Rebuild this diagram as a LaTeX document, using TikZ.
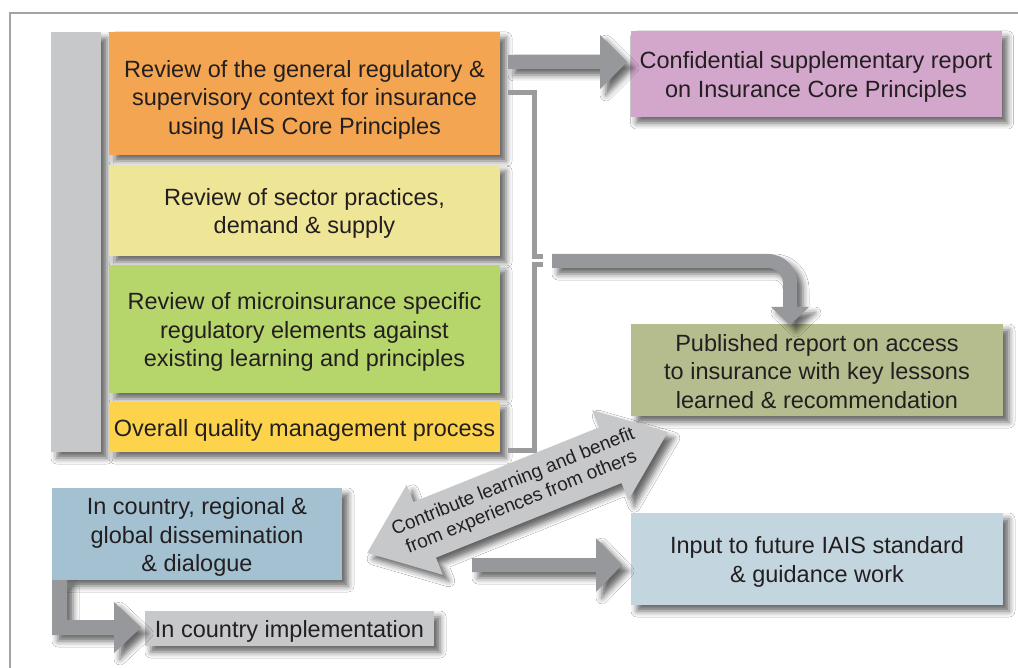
\documentclass[tikz,border=0pt]{standalone}
\usepackage{fontspec}
\setmainfont{Liberation Sans}
\usetikzlibrary{shadows.blur,calc}
\definecolor{corange}{HTML}{F3A551}
\definecolor{cpale}{HTML}{EFE597}
\definecolor{cgreen}{HTML}{B6D56B}
\definecolor{cyellow}{HTML}{FDD34C}
\definecolor{cpurple}{HTML}{D3A6CC}
\definecolor{colive}{HTML}{B5BD8E}
\definecolor{clblue}{HTML}{C3D6E0}
\definecolor{cblue}{HTML}{A3C1D1}
\definecolor{cgray}{HTML}{C7C8CA}
\definecolor{carrow}{HTML}{97989B}
\definecolor{cframe}{HTML}{A3A3A3}
\definecolor{ctext}{HTML}{231F20}
\tikzset{
  shad/.style={blur shadow={shadow xshift=6pt, shadow yshift=-6pt, shadow blur radius=6pt, shadow opacity=60}},
  box/.style={shad, inner sep=0pt, outer sep=0pt},
  txt/.style={inner sep=0pt, align=center, text=ctext, yshift=-3pt,
    font=\fontsize{23.5}{28.5}\selectfont},
  blockarrow/.style={shad, fill=carrow},
  bracketline/.style={draw=cframe!95!black, line width=5pt},
}
\begin{document}
\begin{tikzpicture}[x=1pt,y=-1pt]
\clip (0,0) rectangle (1018,668);
\fill[white] (0,0) rectangle (1018,668);
\draw[cframe, line width=2pt] (10,13) rectangle (1060,720);

% left stack
\node[box, fill=cgray, minimum width=50pt, minimum height=420pt] (bar) at (76,242) {};
\node[box, fill=corange, minimum width=391pt, minimum height=123pt,
  label={[txt, yshift=-3pt]center:{Review of the general regulatory \&\\ supervisory context for insurance\\ using IAIS Core Principles}}] (ctx) at (304.5,93.5) {};
\node[box, fill=cpale, minimum width=391pt, minimum height=91pt,
  label={[txt]center:{Review of sector practices,\\ demand \& supply}}] (sector) at (304.5,210.5) {};
\node[box, fill=cgreen, minimum width=391pt, minimum height=128pt,
  label={[txt]center:{Review of microinsurance specific\\ regulatory elements against\\ existing learning and principles}}] (micro) at (304.5,329) {};
\node[box, fill=cyellow, minimum width=391pt, minimum height=50pt,
  label={[txt]center:{Overall quality management process}}] (quality) at (304.5,427) {};

% right column
\node[box, fill=cpurple, minimum width=371pt, minimum height=86pt,
  label={[txt]center:{Confidential supplementary report\\ on Insurance Core Principles}}] (conf) at (816,74) {};
\node[box, fill=colive, minimum width=372pt, minimum height=92pt,
  label={[txt, yshift=1.5pt]center:{Published report on access\\ to insurance with key lessons\\ learned \& recommendation}}] (pub) at (817,370) {};
\node[box, fill=clblue, minimum width=372pt, minimum height=92pt,
  label={[txt]center:{Input to future IAIS standard\\ \& guidance work}}] (input) at (817,559) {};

% bottom left
\node[box, fill=cblue, minimum width=290pt, minimum height=92pt,
  label={[txt]center:{In country, regional \&\\ global dissemination\\ \& dialogue}}] (dissem) at (197,534) {};
\node[box, fill=cgray, minimum width=289pt, minimum height=35pt,
  label={[txt]center:{In country implementation}}] (impl) at (289.5,628.5) {};

% bracket
\draw[bracketline] (508,93) -- (534.5,93) -- (534.5,257) -- (543,257);
\draw[bracketline] (543,265) -- (534.5,265) -- (534.5,450) -- (508,450);

% arrow to confidential report
\fill[blockarrow] (508,55) -- (600,55) -- (600,35) -- ($(conf.west)+(-3.5,-12)$) -- (600,89) -- (600,69) -- (508,69) -- cycle;

% curved arrow to published report
\fill[blockarrow] (552,254) -- (768,254) .. controls (784,254) and (797,267) .. (797,283)
  -- (797,307) -- (809,307) -- ($(pub.north)+(-27,1)$) -- (771,307) -- (783,307) -- (783,283)
  .. controls (783,275) and (776,268) .. (768,268) -- (552,268) -- cycle;

% arrow to input
\fill[blockarrow] (472,558) -- (596,558) -- (596,538) -- ($(input.west)+(-9,6)$) -- (596,592) -- (596,572) -- (472,572) -- cycle;

% elbow arrow to implementation
\fill[blockarrow] (dissem.south west) -- (67,580) -- (67,620) -- (114,620) -- (114,602)
  -- ($(impl.west)+(-4,-1)$) -- (114,653) -- (114,635) -- (52,635) -- cycle;

% double arrow between dissemination and published report
\begin{scope}[shift={(517.5,492.5)}, rotate=21.9]
  \fill[shad, fill=cgray] (-162,0) -- (-100,-48.5) -- (-100,-30) -- (100,-30) -- (100,-48.5)
    -- (162,0) -- (100,48.5) -- (100,30) -- (-100,30) -- (-100,48.5) -- cycle;
\end{scope}
\node[rotate=21.9, align=center, text=ctext, inner sep=0pt,
  font=\fontsize{19}{22}\selectfont] (share) at (517.5,492.5)
  {Contribute learning and benefit\\ from experiences from others};
\end{tikzpicture}
\end{document}
